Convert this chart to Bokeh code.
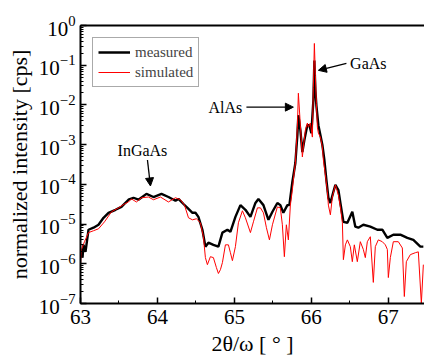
from bokeh.plotting import figure
from bokeh.models import (Range1d, SingleIntervalTicker, LogTicker, LinearAxis, FixedTicker,
                          Legend, LegendItem, Label, Arrow, NormalHead)
from bokeh.embed import file_html
from bokeh.resources import INLINE

# 2theta/omega [deg] and normalized intensity [cps] -- simulated (red)
sim_x = [63.000, 63.013, 63.052, 63.104, 63.169, 63.234, 63.312, 63.403, 63.494, 63.571,
         63.623, 63.662, 63.727, 63.792, 63.883, 63.948, 64.039, 64.143, 64.234, 64.299,
         64.351, 64.403, 64.455, 64.506, 64.558, 64.597, 64.623, 64.649, 64.688, 64.727,
         64.766, 64.792, 64.818, 64.844, 64.883, 64.922, 64.948, 64.974, 65.013, 65.052,
         65.104, 65.143, 65.208, 65.247, 65.299, 65.338, 65.377, 65.416, 65.455, 65.494,
         65.558, 65.597, 65.623, 65.649, 65.675, 65.701, 65.727, 65.753, 65.766, 65.792,
         65.818, 65.831, 65.857, 65.883, 65.896, 65.922, 65.948, 65.961, 65.987, 66.013,
         66.026, 66.039, 66.052, 66.065, 66.078, 66.091, 66.117, 66.143, 66.156, 66.182,
         66.208, 66.221, 66.247, 66.273, 66.312, 66.351, 66.377, 66.403, 66.416, 66.442,
         66.468, 66.506, 66.532, 66.558, 66.597, 66.636, 66.675, 66.701, 66.727, 66.766,
         66.805, 66.831, 66.870, 66.922, 66.961, 66.987, 67.000, 67.026, 67.065, 67.130,
         67.182, 67.208, 67.234, 67.286, 67.351, 67.390, 67.429, 67.455]
sim_y = [9.5e-7, 2.3e-6, 3.6e-6, 6.1e-6, 6.8e-6, 7.6e-6, 1.14e-5, 2.04e-5, 2.56e-5, 3.2e-5,
         3.6e-5, 4.3e-5, 3.6e-5, 4.6e-5, 4.8e-5, 4.1e-5, 4.8e-5, 3.6e-5, 4.6e-5, 4.1e-5,
         3.0e-5, 1.44e-5, 1.28e-5, 1.36e-5, 1.08e-5, 4.8e-6, 1.43e-6, 9.5e-7, 1.51e-6, 1.43e-6,
         8.0e-7, 5.7e-7, 7.1e-7, 1.07e-6, 3.0e-6, 3.0e-6, 1.9e-6, 1.2e-6, 2.7e-6, 1.08e-5,
         2.16e-5, 1.44e-5, 6.1e-6, 1.14e-5, 2.56e-5, 2.56e-5, 1.92e-5, 8.1e-6, 4.0e-6, 9.6e-6,
         2.7e-5, 2.56e-5, 9.6e-6, 1.51e-6, 9.6e-6, 4.0e-6, 3.0e-5, 7.2e-5, 1.29e-4, 3.45e-4,
         2.76e-3, 1.97e-2, 3.1e-3, 4.9e-4, 8.7e-4, 2.32e-3, 3.5e-3, 2.76e-3, 3.5e-3, 1.55e-3,
         2.79e-2, 3.53e-1, 5.57e-2, 1.10e-2, 2.76e-3, 1.95e-3, 1.55e-3, 8.7e-4, 4.1e-4, 1.73e-4,
         6.5e-5, 3.0e-5, 1.71e-5, 4.8e-5, 9.7e-5, 5.4e-5, 2.7e-5, 1.08e-5, 1.27e-6, 3.0e-6,
         4.0e-6, 2.7e-6, 1.13e-6, 3.0e-6, 1.13e-6, 3.6e-6, 2.3e-6, 1.43e-6, 3.6e-6, 4.8e-6,
         3.4e-7, 2.7e-6, 4.0e-6, 3.6e-6, 3.0e-6, 2.3e-6, 4.5e-7, 1.43e-6, 3.6e-6, 3.6e-6,
         2.5e-6, 1.5e-7, 1.13e-6, 1.7e-6, 1.9e-6, 2.0e-6, 1.0e-7, 9.5e-7]

# measured (black)
meas_x = [63.000, 63.026, 63.039, 63.065, 63.104, 63.169, 63.234, 63.299, 63.364, 63.455,
          63.532, 63.623, 63.688, 63.753, 63.857, 63.948, 64.052, 64.143, 64.234, 64.273,
          64.338, 64.390, 64.455, 64.494, 64.532, 64.584, 64.623, 64.662, 64.727, 64.792,
          64.844, 64.909, 64.948, 65.013, 65.078, 65.143, 65.208, 65.273, 65.312, 65.377,
          65.442, 65.494, 65.558, 65.597, 65.636, 65.688, 65.714, 65.753, 65.792, 65.818,
          65.831, 65.857, 65.883, 65.909, 65.948, 65.974, 66.000, 66.026, 66.039, 66.052,
          66.065, 66.091, 66.117, 66.143, 66.169, 66.195, 66.221, 66.247, 66.286, 66.312,
          66.351, 66.377, 66.416, 66.468, 66.532, 66.571, 66.610, 66.675, 66.766, 66.857,
          66.922, 66.987, 67.065, 67.156, 67.247, 67.325, 67.416, 67.455]
meas_y = [2.3e-6, 1.43e-6, 3.0e-6, 2.0e-6, 7.2e-6, 8.1e-6, 9.6e-6, 1.44e-5, 1.92e-5, 2.29e-5,
          2.7e-5, 4.1e-5, 4.6e-5, 4.1e-5, 5.75e-5, 4.8e-5, 5.75e-5, 4.8e-5, 3.85e-5, 4.3e-5,
          3.2e-5, 2.56e-5, 1.92e-5, 1.92e-5, 1.52e-5, 7.2e-6, 2.7e-6, 3.4e-6, 3.0e-6, 2.7e-6,
          6.1e-6, 7.2e-6, 6.4e-6, 1.52e-5, 3.0e-5, 2.29e-5, 1.52e-5, 3.4e-5, 4.3e-5, 3.0e-5,
          1.28e-5, 2.04e-5, 3.4e-5, 3.0e-5, 1.92e-5, 3.0e-5, 3.0e-5, 1.15e-4, 3.45e-4, 1.74e-3,
          5.5e-3, 2.32e-3, 6.5e-4, 1.30e-3, 3.1e-3, 3.1e-3, 1.95e-3, 1.31e-2, 1.32e-1, 2.34e-2,
          9.8e-3, 3.1e-3, 1.74e-3, 9.8e-4, 4.1e-4, 1.29e-4, 4.6e-5, 3.4e-5, 6.5e-5, 9.7e-5,
          7.2e-5, 3.4e-5, 1.14e-5, 1.08e-5, 2.04e-5, 8.6e-6, 8.1e-6, 9.6e-6, 8.6e-6, 7.2e-6,
          7.2e-6, 4.5e-6, 5.4e-6, 5.4e-6, 4.5e-6, 4.0e-6, 2.7e-6, 2.7e-6]

series_names = ["measured", "simulated"]
peak_labels = ["InGaAs", "AlAs", "GaAs"]

FONT = "Liberation Serif"

p = figure(width=424, height=358, x_range=Range1d(63, 67.47), y_range=Range1d(1e-7, 1),
           y_axis_type="log", output_backend="svg", toolbar_location=None,
           min_border_left=80, min_border_right=0, min_border_top=25, min_border_bottom=54)
p.outline_line_color = None
p.xgrid.visible = False
p.ygrid.visible = False
p.background_fill_color = "white"

r_meas = p.line(meas_x, meas_y, color="black", line_width=2.4)
r_sim = p.line(sim_x, sim_y, color="#ff0000", line_width=1)

legend = Legend(items=[LegendItem(label=series_names[0], renderers=[r_meas]),
                       LegendItem(label=series_names[1], renderers=[r_sim])],
                location="top_left", margin=12, padding=5, spacing=2,
                glyph_width=32, glyph_height=18, label_standoff=5,
                label_text_font=FONT, label_text_font_size="15px",
                border_line_color="#555555", border_line_width=1,
                background_fill_alpha=1.0)
p.add_layout(legend)

# axes styling
xa = p.xaxis[0]
xa.ticker = SingleIntervalTicker(interval=1, num_minor_ticks=2)
ya = p.yaxis[0]
ya.ticker = LogTicker(num_minor_ticks=10)
for ax in (xa, ya):
    ax.axis_line_width = 2
    ax.axis_line_color = "black"
    ax.major_tick_in = 6
    ax.major_tick_out = 0
    ax.minor_tick_in = 3
    ax.minor_tick_out = 0
    ax.major_tick_line_width = 1.5
    ax.major_tick_line_color = "black"
    ax.minor_tick_line_color = "black"
    ax.major_label_text_font = FONT
    ax.major_label_text_font_size = "21px"
    ax.major_label_text_color = "black"
    ax.axis_label_text_font = FONT
    ax.axis_label_text_font_size = "22px"
    ax.axis_label_text_font_style = "normal"
    ax.axis_label_text_color = "black"
xa.axis_label = "2θ/ω [ ° ]"
ya.axis_label = "normalized intensity [cps]"
xa.major_label_standoff = 6
xa.axis_label_standoff = 4
ya.major_label_standoff = 5
ya.axis_label_standoff = 4

top = LinearAxis(ticker=FixedTicker(ticks=[]), axis_line_width=2, axis_line_color="black")
p.add_layout(top, "above")

# annotations
def add_label(x, y, text):
    p.add_layout(Label(x=x, y=y, text=text, text_font=FONT, text_font_size="16px",
                       text_align="center", text_baseline="middle", text_color="black"))

def add_arrow(x0, y0, x1, y1):
    p.add_layout(Arrow(end=NormalHead(size=8, fill_color="black", line_color="black"),
                       x_start=x0, y_start=y0, x_end=x1, y_end=y1,
                       line_color="black", line_width=1.3))

add_label(63.805, 7.3e-4, peak_labels[0])
add_arrow(63.870, 4.1e-4, 63.909, 9.1e-5)
add_label(64.883, 8.8e-3, peak_labels[1])
add_arrow(65.156, 8.8e-3, 65.766, 8.8e-3)
add_label(66.740, 0.111, peak_labels[2])
add_arrow(66.455, 0.111, 66.091, 0.0743)

open("out.html", "w").write(file_html(p, INLINE))
